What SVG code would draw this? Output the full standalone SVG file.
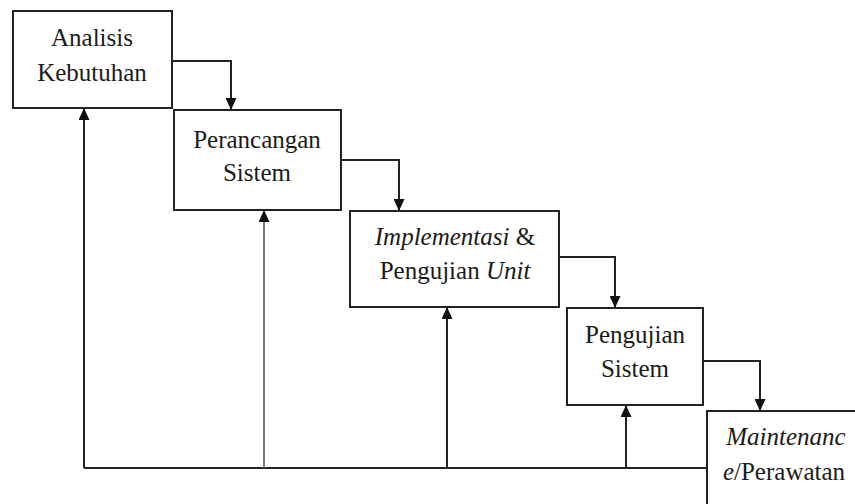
<svg xmlns="http://www.w3.org/2000/svg" width="855" height="504" viewBox="0 0 855 504">
<defs>
<marker id="ah" viewBox="0 0 12 11" refX="12" refY="5.5" markerWidth="12" markerHeight="11" markerUnits="userSpaceOnUse" orient="auto">
<path d="M0,0 L12,5.5 L0,11 Z" fill="#111"/>
</marker>
<style>
.box{fill:#fff;stroke:#222;stroke-width:2}
.t{font-size:25px;fill:#1a1a1a;text-anchor:middle}
.i{font-style:italic}
.c{fill:none;stroke:#222;stroke-width:2}
</style>
</defs>
<rect width="855" height="504" fill="#fff"/>
<g id="connectors">
<polyline class="c" points="172,61 231,61 231,110" marker-end="url(#ah)"/>
<polyline class="c" points="341,160 399,160 399,211" marker-end="url(#ah)"/>
<polyline class="c" points="559,257 615,257 615,308" marker-end="url(#ah)"/>
<polyline class="c" points="703,361 760,361 760,411" marker-end="url(#ah)"/>
<line class="c" x1="84" y1="468" x2="707" y2="468"/>
<line class="c" x1="84" y1="468" x2="84" y2="108" marker-end="url(#ah)"/>
<line class="c" x1="264" y1="468" x2="264" y2="210" marker-end="url(#ah)" style="stroke:#777"/>
<line class="c" x1="447" y1="468" x2="447" y2="307" marker-end="url(#ah)"/>
<line class="c" x1="626" y1="468" x2="626" y2="405" marker-end="url(#ah)"/>
</g>
<g font-family="'Liberation Serif', 'Times New Roman', 'DejaVu Serif', serif">
<g id="analisis">
<rect class="box" x="13" y="11" width="159" height="97"/>
<text class="t" x="92" y="46">Analisis</text>
<text class="t" x="92" y="81">Kebutuhan</text>
</g>
<g id="perancangan">
<rect class="box" x="174" y="110" width="167" height="100"/>
<text class="t" x="257" y="148">Perancangan</text>
<text class="t" x="257" y="181">Sistem</text>
</g>
<g id="implementasi">
<rect class="box" x="350" y="211" width="209" height="96"/>
<text class="t" x="455" y="245"><tspan class="i">Implementasi</tspan> &amp;</text>
<text class="t" x="455" y="279">Pengujian <tspan class="i">Unit</tspan></text>
</g>
<g id="pengujian">
<rect class="box" x="567" y="308" width="136" height="97"/>
<text class="t" x="635" y="343">Pengujian</text>
<text class="t" x="635" y="377">Sistem</text>
</g>
<g id="maintenance">
<rect class="box" x="707" y="411" width="170" height="110"/>
<text class="t i" x="786" y="445">Maintenanc</text>
<text class="t" x="784" y="480"><tspan class="i">e</tspan>/Perawatan</text>
</g>
</g>
</svg>
